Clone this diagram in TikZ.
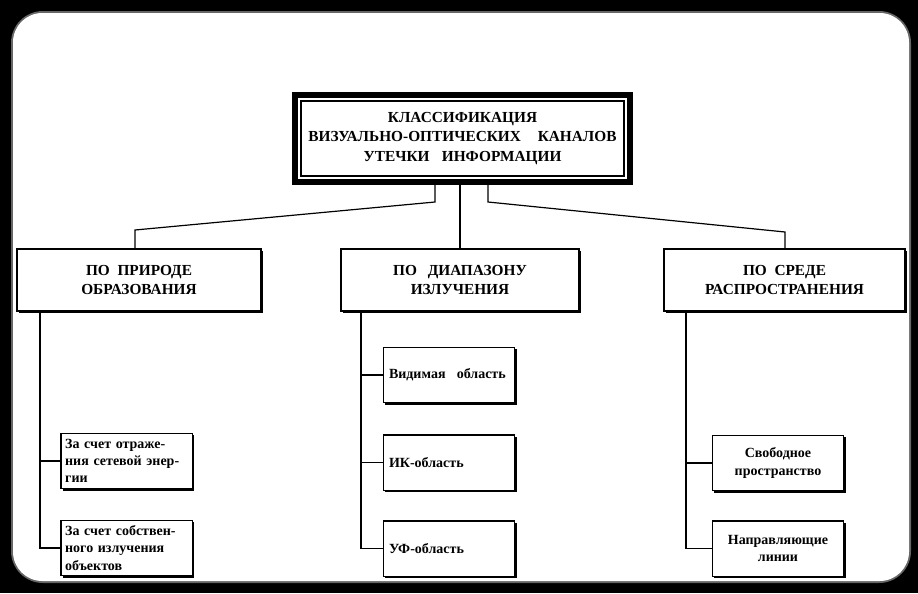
\documentclass[tikz,border=0pt]{standalone}
\usepackage{fontspec}
\setmainfont{Liberation Serif}
\usetikzlibrary{shadows}
\begin{document}
\begin{tikzpicture}[x=0.75pt,y=-0.75pt,
  box/.style={draw, line width=1pt, fill=white, inner sep=0pt, outer sep=0pt,
    drop shadow={shadow xshift=1.6pt, shadow yshift=-1.6pt, opacity=1, fill=black}},
  conn/.style={line width=0.9pt},
  hfont/.style={font=\fontsize{11.5}{14.5}\selectfont\bfseries, align=center},
  lfont/.style={font=\fontsize{10.5}{13}\selectfont\bfseries},
  leafbox/.style={box, lfont, minimum width=98.5pt, minimum height=41.5pt}]
\fill[black] (0,0) rectangle (918,593);
\fill[black!60, rounded corners=24pt] (11,11) rectangle (911,583);
\fill[white, rounded corners=22pt] (13,13) rectangle (909,581);
\useasboundingbox (0,0) rectangle (918,593);

% top box
\node[draw, line width=4.5pt, fill=white, inner sep=0pt, outer sep=0pt,
  minimum width=251.25pt, minimum height=65.25pt, hfont] (T) at (462.5,138.5)
  {КЛАССИФИКАЦИЯ\\ВИЗУАЛЬНО-ОПТИЧЕСКИХ\hspace{1.1em}КАНАЛОВ\\УТЕЧКИ\hspace{0.8em}ИНФОРМАЦИИ};
\draw[line width=1pt] ([shift={(6,6)}]T.north west) rectangle ([shift={(-6,-6)}]T.south east);

% group boxes
\node[box, minimum width=183pt, minimum height=46.5pt, hfont] (G1) at (139,280)
  {ПО\hspace{0.5em}ПРИРОДЕ\\ОБРАЗОВАНИЯ};
\node[box, minimum width=178.5pt, minimum height=46.5pt, hfont] (G2) at (460,280)
  {ПО\hspace{0.7em}ДИАПАЗОНУ\\ИЗЛУЧЕНИЯ};
\node[box, minimum width=180.75pt, minimum height=46.5pt, hfont] (G3) at (784.5,280)
  {ПО\hspace{0.5em}СРЕДЕ\\РАСПРОСТРАНЕНИЯ};

% leaves left
\node[leafbox, text width=92pt, align=left] (L1) at (126.5,461)
  {\makebox[92pt][s]{За счет отраже-}\\\makebox[92pt][s]{ния сетевой энер-}\\гии};
\node[leafbox, text width=92pt, align=left] (L2) at (126.5,548)
  {\makebox[92pt][s]{За счет собствен-}\\\makebox[92pt][s]{ного излучения}\\объектов};

% leaves middle
\node[leafbox, text width=90pt, align=left] (M1) at (449,375) {Видимая\hspace{0.8em}область};
\node[leafbox, text width=90pt, align=left] (M2) at (449,462.5) {ИК-область};
\node[leafbox, text width=90pt, align=left] (M3) at (449,548.5) {УФ-область};

% leaves right
\node[leafbox, align=center] (R1) at (778,463) {Свободное\\пространство};
\node[leafbox, align=center] (R2) at (778,548.5) {Направляющие\\линии};

% connectors top -> groups
\coordinate (k1a) at (435,202);
\coordinate (k1b) at (135,230);
\coordinate (k3a) at (488,202);
\coordinate (k3b) at (785,232);
\draw[conn] (T.south -| k1a) -- (k1a) -- (k1b) -- (G1.north -| k1b);
\draw[conn] (T.south -| G2.north) -- (G2.north);
\draw[conn] (T.south -| k3a) -- (k3a) -- (k3b) -- (G3.north -| k3b);

% trunks
\coordinate (t1) at (40,0);
\coordinate (t2) at (361,0);
\coordinate (t3) at (686,0);
\draw[conn] (G1.south -| t1) |- (L2.west);
\draw[conn] (L1.west) -- (L1.west -| t1);
\draw[conn] (G2.south -| t2) |- (M3.west);
\draw[conn] (M1.west) -- (M1.west -| t2);
\draw[conn] (M2.west) -- (M2.west -| t2);
\draw[conn] (G3.south -| t3) |- (R2.west);
\draw[conn] (R1.west) -- (R1.west -| t3);
\end{tikzpicture}
\end{document}
